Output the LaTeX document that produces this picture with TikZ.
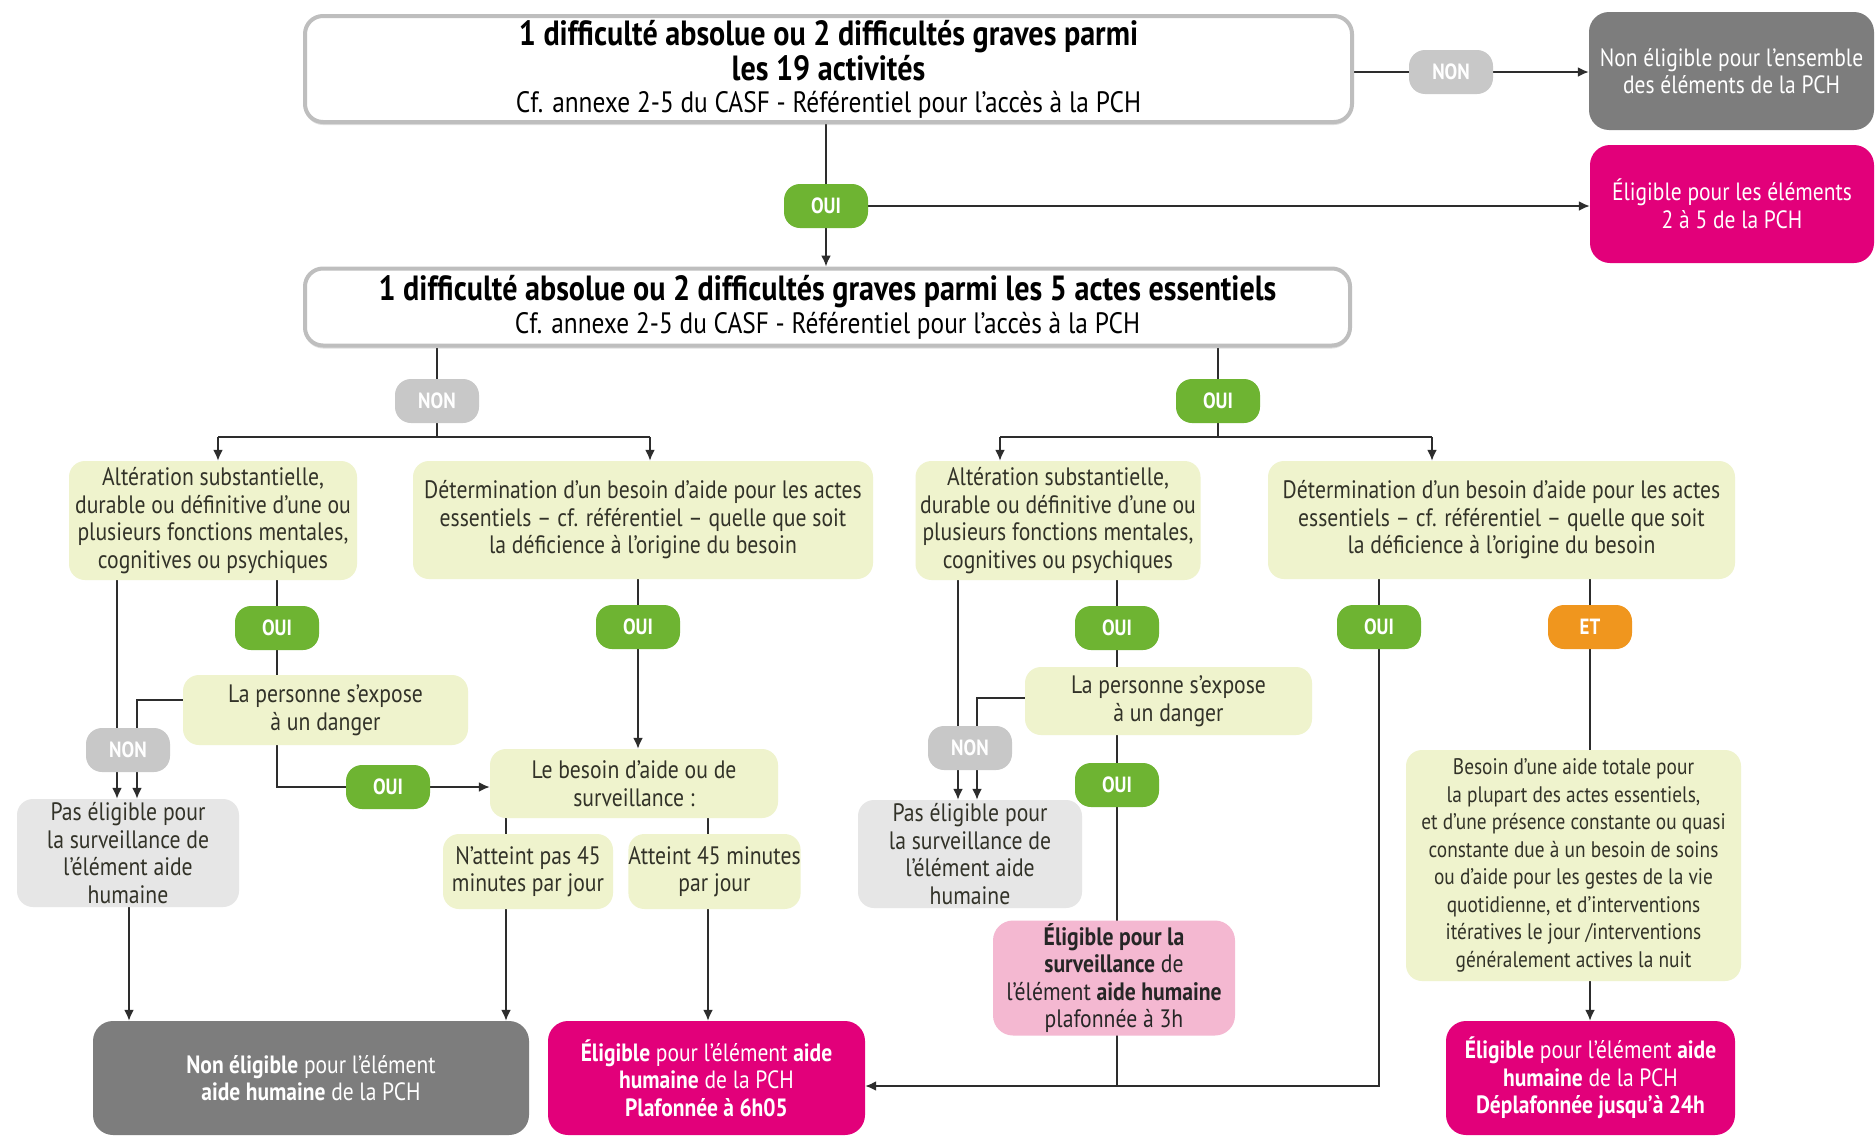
\documentclass[tikz,border=0pt]{standalone}
\usepackage{fontspec}
\setmainfont{PT Sans}[FakeStretch=0.86]
\usetikzlibrary{arrows.meta,shadows}
\definecolor{pg}{RGB}{239,243,205}
\definecolor{lgr}{RGB}{230,230,230}
\definecolor{dgr}{RGB}{125,125,125}
\definecolor{mag}{RGB}{226,0,122}
\definecolor{pnk}{RGB}{244,184,209}
\definecolor{grn}{RGB}{110,180,50}
\definecolor{ngr}{RGB}{200,200,200}
\definecolor{org}{RGB}{240,150,30}
\definecolor{txt}{RGB}{50,50,40}
\definecolor{lc}{RGB}{45,45,45}
\definecolor{bord}{RGB}{190,190,190}
\newcommand{\setfs}[2]{\fontsize{#1}{#2}\selectfont}
\pgfdeclarelayer{back}
\pgfdeclarelayer{bg}
\pgfsetlayers{back,bg,main}
\begin{document}
\begin{tikzpicture}[x=1pt,y=-1pt,
  wbox/.style={draw=bord, line width=4pt, fill=white, rounded corners=18pt, align=center, text=black, inner sep=0pt,
     drop shadow={shadow xshift=0pt,shadow yshift=-3pt,opacity=0.25}},
  gbox/.style={fill=pg, rounded corners=16pt, align=center, text=txt, inner sep=0pt, font=\setfs{25.2}{27.5}},
  pebox/.style={gbox, fill=lgr},
  dbox/.style={fill=dgr, rounded corners=20pt, align=center, text=white, inner sep=0pt, font=\setfs{25}{27.5}},
  mbox/.style={dbox, fill=mag},
  pkbox/.style={gbox, fill=pnk, text=black!85, rounded corners=20pt},
  pill/.style={rounded corners=16pt, minimum width=84pt, minimum height=44pt, inner sep=0pt, text=white, font=\setfs{22}{24}\bfseries},
  oui/.style={pill, fill=grn},
  non/.style={pill, fill=ngr},
  etp/.style={pill, fill=org},
  conn/.style={draw=lc, line width=2pt},
  arr/.style={conn, -{Latex[length=11pt,width=10pt]}}
]
\begin{pgfonlayer}{back}
\fill[white] (0,0) rectangle (1876,1138);
\end{pgfonlayer}
\useasboundingbox (0,0) rectangle (1876,1138);

% top row
\node[wbox, minimum width=1047pt, minimum height=106pt, font=\setfs{35}{33}\bfseries] (t1) at (828.5,69)
  {1 difficulté absolue ou 2 difficultés graves parmi\\[2pt]les 19 activités\\[-1pt]{\setfs{29.5}{33}\mdseries Cf. annexe 2-5 du CASF - Référentiel pour l'accès à la PCH}};
\node[dbox, minimum width=285pt, minimum height=118pt] (ngA) at (1731.5,71) {Non éligible pour l'ensemble\\des éléments de la PCH};
\node[mbox, minimum width=284pt, minimum height=118pt] (mgA) at (1732,204) {Éligible pour les éléments\\2 à 5 de la PCH};
\node[non] (nonA) at (1451,72) {NON};
\node[oui] (ouiA) at (826,206) {OUI};

\node[wbox, minimum width=1045pt, minimum height=77pt, font=\setfs{35}{33}\bfseries] (t2) at (827.5,307)
  {1 difficulté absolue ou 2 difficultés graves parmi les 5 actes essentiels\\{\setfs{29.5}{33}\mdseries Cf. annexe 2-5 du CASF - Référentiel pour l'accès à la PCH}};
\node[non] (nonB) at (437,401) {NON};
\node[oui] (ouiB) at (1218,401) {OUI};

% third row
\node[gbox, minimum width=288pt, minimum height=119pt] (A1) at (213,520.5) {Altération substantielle,\\durable ou définitive d'une ou\\plusieurs fonctions mentales,\\cognitives ou psychiques};
\node[gbox, minimum width=460pt, minimum height=118pt] (B1) at (643,520) {Détermination d'un besoin d'aide pour les actes\\essentiels – cf. référentiel – quelle que soit\\la déficience à l'origine du besoin};
\node[gbox, minimum width=285pt, minimum height=119pt] (A2) at (1058,520.5) {Altération substantielle,\\durable ou définitive d'une ou\\plusieurs fonctions mentales,\\cognitives ou psychiques};
\node[gbox, minimum width=467pt, minimum height=118pt] (B2) at (1501.5,520) {Détermination d'un besoin d'aide pour les actes\\essentiels – cf. référentiel – quelle que soit\\la déficience à l'origine du besoin};

\node[oui] (ouiC) at (277,628) {OUI};
\node[oui] (ouiF) at (638,627) {OUI};
\node[oui] (ouiG) at (1117,628) {OUI};
\node[oui] (ouiJ) at (1379,627) {OUI};
\node[etp] (et) at (1590,627) {ET};

\node[gbox, minimum width=285pt, minimum height=70pt] (LP1) at (325.5,710) {La personne s'expose\\à un danger};
\node[gbox, minimum width=287pt, minimum height=68pt] (LP2) at (1168.5,701) {La personne s'expose\\à un danger};
\node[non] (nonD) at (128,750) {NON};
\node[non] (nonH) at (970,748) {NON};
\node[oui] (ouiE) at (388,787) {OUI};
\node[oui] (ouiI) at (1117,785) {OUI};

\node[pebox, minimum width=222pt, minimum height=108pt] (PE1) at (128,853) {Pas éligible pour\\la surveillance de\\l'élément aide\\humaine};
\node[pebox, minimum width=224pt, minimum height=108pt] (PE2) at (970,854) {Pas éligible pour\\la surveillance de\\l'élément aide\\humaine};
\node[gbox, minimum width=288pt, minimum height=69pt] (LB) at (634,783.5) {Le besoin d'aide ou de\\surveillance :};
\node[gbox, minimum width=170pt, minimum height=75pt] (NA) at (528,871.5) {N'atteint pas 45\\minutes par jour};
\node[gbox, minimum width=169pt, minimum height=75pt] (AT) at (714.5,871.5) {Atteint 45 minutes\\par jour};
\node[gbox, minimum width=335pt, minimum height=231pt, font=\setfs{22.5}{27.5}] (BT) at (1573.5,865.5) {Besoin d'une aide totale pour\\la plupart des actes essentiels,\\et d'une présence constante ou quasi\\constante due à un besoin de soins\\ou d'aide pour les gestes de la vie\\quotidienne, et d'interventions\\itératives le jour /interventions\\généralement actives la nuit};
\node[pkbox, minimum width=242pt, minimum height=115pt] (PK) at (1114,978) {\textbf{Éligible pour la}\\\textbf{surveillance} de\\l'élément \textbf{aide humaine}\\plafonnée à 3h};

% bottom row
\node[dbox, minimum width=436pt, minimum height=114pt] (GB) at (311,1078) {\textbf{Non éligible} pour l'élément\\\textbf{aide humaine} de la PCH};
\node[mbox, minimum width=317pt, minimum height=114pt] (MB1) at (706.5,1078) {\textbf{Éligible} pour l'élément \textbf{aide}\\\textbf{humaine} de la PCH\\\textbf{Plafonnée à 6h05}};
\node[mbox, minimum width=289pt, minimum height=114pt] (MB3) at (1590.5,1078) {\textbf{Éligible} pour l'élément \textbf{aide}\\\textbf{humaine} de la PCH\\\textbf{Déplafonnée jusqu'à 24h}};

\coordinate (barL1) at (218,437);
\coordinate (barL2) at (650,437);
\coordinate (barR1) at (1000,437);
\coordinate (barR2) at (1432,437);
\coordinate (xA) at (117,0);
\coordinate (xB) at (137,0);
\coordinate (xC) at (958,0);
\coordinate (xD) at (977,0);
\coordinate (xP) at (129,0);
\coordinate (xNA) at (506,0);
\coordinate (xAT) at (708,0);
\coordinate (hy) at (0,1086);

\begin{pgfonlayer}{bg}
\draw[conn] (ouiA |- t1.south) -- (ouiA);
\draw[arr] (ouiA) -- (ouiA |- t2.north);
\draw[conn] (t1.east |- nonA) -- (nonA);
\draw[arr] (nonA) -- (ngA.west |- nonA);
\draw[arr] (ouiA) -- (mgA.west |- ouiA);

\draw[conn] (nonB |- t2.south) -- (nonB |- barL1);
\draw[conn] (barL1) -- (barL2);
\draw[arr] (barL1) -- (barL1 |- A1.north);
\draw[arr] (barL2) -- (barL2 |- B1.north);
\draw[conn] (ouiB |- t2.south) -- (ouiB |- barR1);
\draw[conn] (barR1) -- (barR2);
\draw[arr] (barR1) -- (barR1 |- A2.north);
\draw[arr] (barR2) -- (barR2 |- B2.north);

\draw[arr] (A1.south -| xA) -- (PE1.north -| xA);
\draw[arr] ([yshift=10pt]LP1.west) -| (PE1.north -| xB);
\draw[conn] (ouiC |- A1.south) -- (ouiC |- LP1.north);
\draw[arr] (ouiC |- LP1.south) |- (LB.west |- ouiE);
\draw[arr] (ouiF |- B1.south) -- (ouiF |- LB.north);
\draw[conn] (LB.south -| xNA) -- (NA.north -| xNA);
\draw[conn] (LB.south -| xAT) -- (AT.north -| xAT);
\draw[arr] (NA.south -| xNA) -- (GB.north -| xNA);
\draw[arr] (AT.south -| xAT) -- (MB1.north -| xAT);
\draw[arr] (PE1.south -| xP) -- (GB.north -| xP);

\draw[arr] (A2.south -| xC) -- (PE2.north -| xC);
\draw[arr] ([yshift=3pt]LP2.west) -| (PE2.north -| xD);
\draw[conn] (ouiG |- A2.south) -- (ouiG |- LP2.north);
\draw[conn] (ouiI |- LP2.south) -- (ouiI |- hy);
\draw[arr] (ouiJ |- B2.south) -- (ouiJ |- hy) -- (MB1.east |- hy);
\draw[conn] (et |- B2.south) -- (et |- BT.north);
\draw[arr] (et |- BT.south) -- (et |- MB3.north);
\end{pgfonlayer}
\end{tikzpicture}
\end{document}
